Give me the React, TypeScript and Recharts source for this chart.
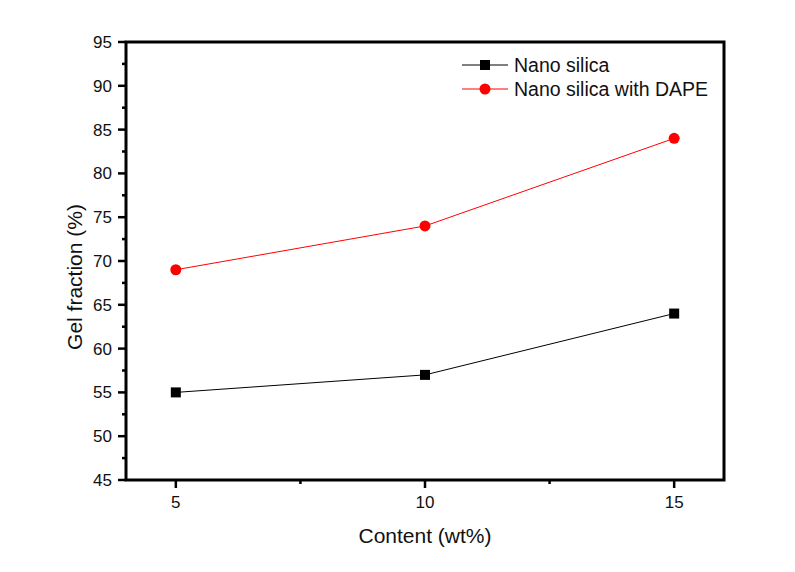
import React from "react";
import {
  LineChart,
  Line,
  XAxis,
  YAxis,
  ReferenceArea,
} from "recharts";

// data
const contents = [5, 10, 15];
const nanoSilica = [55, 57, 64];
const nanoSilicaDape = [69, 74, 84];
const xTicks = [5, 7.5, 10, 12.5, 15];
const yTicks = [45, 47.5, 50, 52.5, 55, 57.5, 60, 62.5, 65, 67.5, 70, 72.5, 75, 77.5, 80, 82.5, 85, 87.5, 90, 92.5, 95];

const rows = contents.map((c, i) => ({
  content: c,
  plain: nanoSilica[i],
  dape: nanoSilicaDape[i],
}));

const W = 795;
const H = 572;
const LEFT = 126;
const TOP = 42;
const RIGHT = 724;
const BOTTOM = 480;
const FONT = "'Liberation Sans', Arial, sans-serif";

const XTick = (props: any) => {
  const { x, payload } = props;
  const major = Number.isInteger(payload.value);
  return (
    <g>
      <line x1={x} x2={x} y1={BOTTOM} y2={BOTTOM + (major ? 8 : 4)} stroke="#000" strokeWidth={2.5} />
      {major && (
        <text x={x} y={BOTTOM + 28} textAnchor="middle" fontSize={17} fontFamily={FONT} fill="#111">
          {payload.value}
        </text>
      )}
    </g>
  );
};

const YTick = (props: any) => {
  const { y, payload } = props;
  const major = Number.isInteger(payload.value);
  return (
    <g>
      <line x1={LEFT} x2={LEFT - (major ? 8 : 4)} y1={y} y2={y} stroke="#000" strokeWidth={2.5} />
      {major && (
        <text x={LEFT - 14} y={y + 6} textAnchor="end" fontSize={17} fontFamily={FONT} fill="#111">
          {payload.value}
        </text>
      )}
    </g>
  );
};

const SquareDot = (props: any) => {
  const { cx, cy } = props;
  return <rect x={cx - 5} y={cy - 5} width={10} height={10} fill="#000" />;
};

const CircleDot = (props: any) => {
  const { cx, cy } = props;
  return <circle cx={cx} cy={cy} r={5.5} fill="#f00" />;
};

const legendItems = [
  { label: "Nano silica", color: "#000", shape: "square" },
  { label: "Nano silica with DAPE", color: "#f00", shape: "circle" },
];

const LegendBox = () => (
  <div
    style={{
      position: "absolute",
      left: 462,
      top: 53,
      fontFamily: FONT,
      fontSize: 19.5,
      color: "#111",
      lineHeight: "24px",
    }}
  >
    {legendItems.map((it) => (
      <div key={it.label} style={{ display: "flex", alignItems: "center" }}>
        <svg width={46} height={14} style={{ marginRight: 6 }}>
          <line x1={0} x2={46} y1={7} y2={7} stroke={it.color} strokeWidth={1} />
          {it.shape === "square" ? (
            <rect x={18} y={2} width={10} height={10} fill={it.color} />
          ) : (
            <circle cx={23} cy={7} r={5.5} fill={it.color} />
          )}
        </svg>
        <span>{it.label}</span>
      </div>
    ))}
  </div>
);

export default function App() {
  return (
    <div style={{ margin: -8, width: W, height: H, background: "#fff", position: "relative" }}>
      <LineChart
        width={W}
        height={H}
        data={rows}
        margin={{ top: TOP, right: W - RIGHT, bottom: 52, left: 66 }}
      >
        <XAxis
          dataKey="content"
          type="number"
          domain={[4, 16]}
          ticks={xTicks}
          interval={0}
          axisLine={false}
          tickLine={false}
          tick={<XTick />}
          height={40}
        />
        <YAxis
          type="number"
          domain={[45, 95]}
          ticks={yTicks}
          interval={0}
          axisLine={false}
          tickLine={false}
          tick={<YTick />}
          width={60}
        />
        <ReferenceArea
          x1={4}
          x2={16}
          y1={45}
          y2={95}
          fill="none"
          stroke="#000"
          strokeWidth={3}
          ifOverflow="visible"
        />
        <Line
          dataKey="plain"
          name="Nano silica"
          stroke="#000"
          strokeWidth={1}
          dot={<SquareDot />}
          isAnimationActive={false}
        />
        <Line
          dataKey="dape"
          name="Nano silica with DAPE"
          stroke="#f00"
          strokeWidth={1}
          dot={<CircleDot />}
          isAnimationActive={false}
        />
        <text
          x={(LEFT + RIGHT) / 2}
          y={543}
          textAnchor="middle"
          fontSize={21}
          fontFamily={FONT}
          fill="#111"
        >
          Content (wt%)
        </text>
        <text
          x={82}
          y={277}
          transform="rotate(-90 82 277)"
          textAnchor="middle"
          fontSize={21}
          fontFamily={FONT}
          fill="#111"
        >
          Gel fraction (%)
        </text>
      </LineChart>
      <LegendBox />
    </div>
  );
}
